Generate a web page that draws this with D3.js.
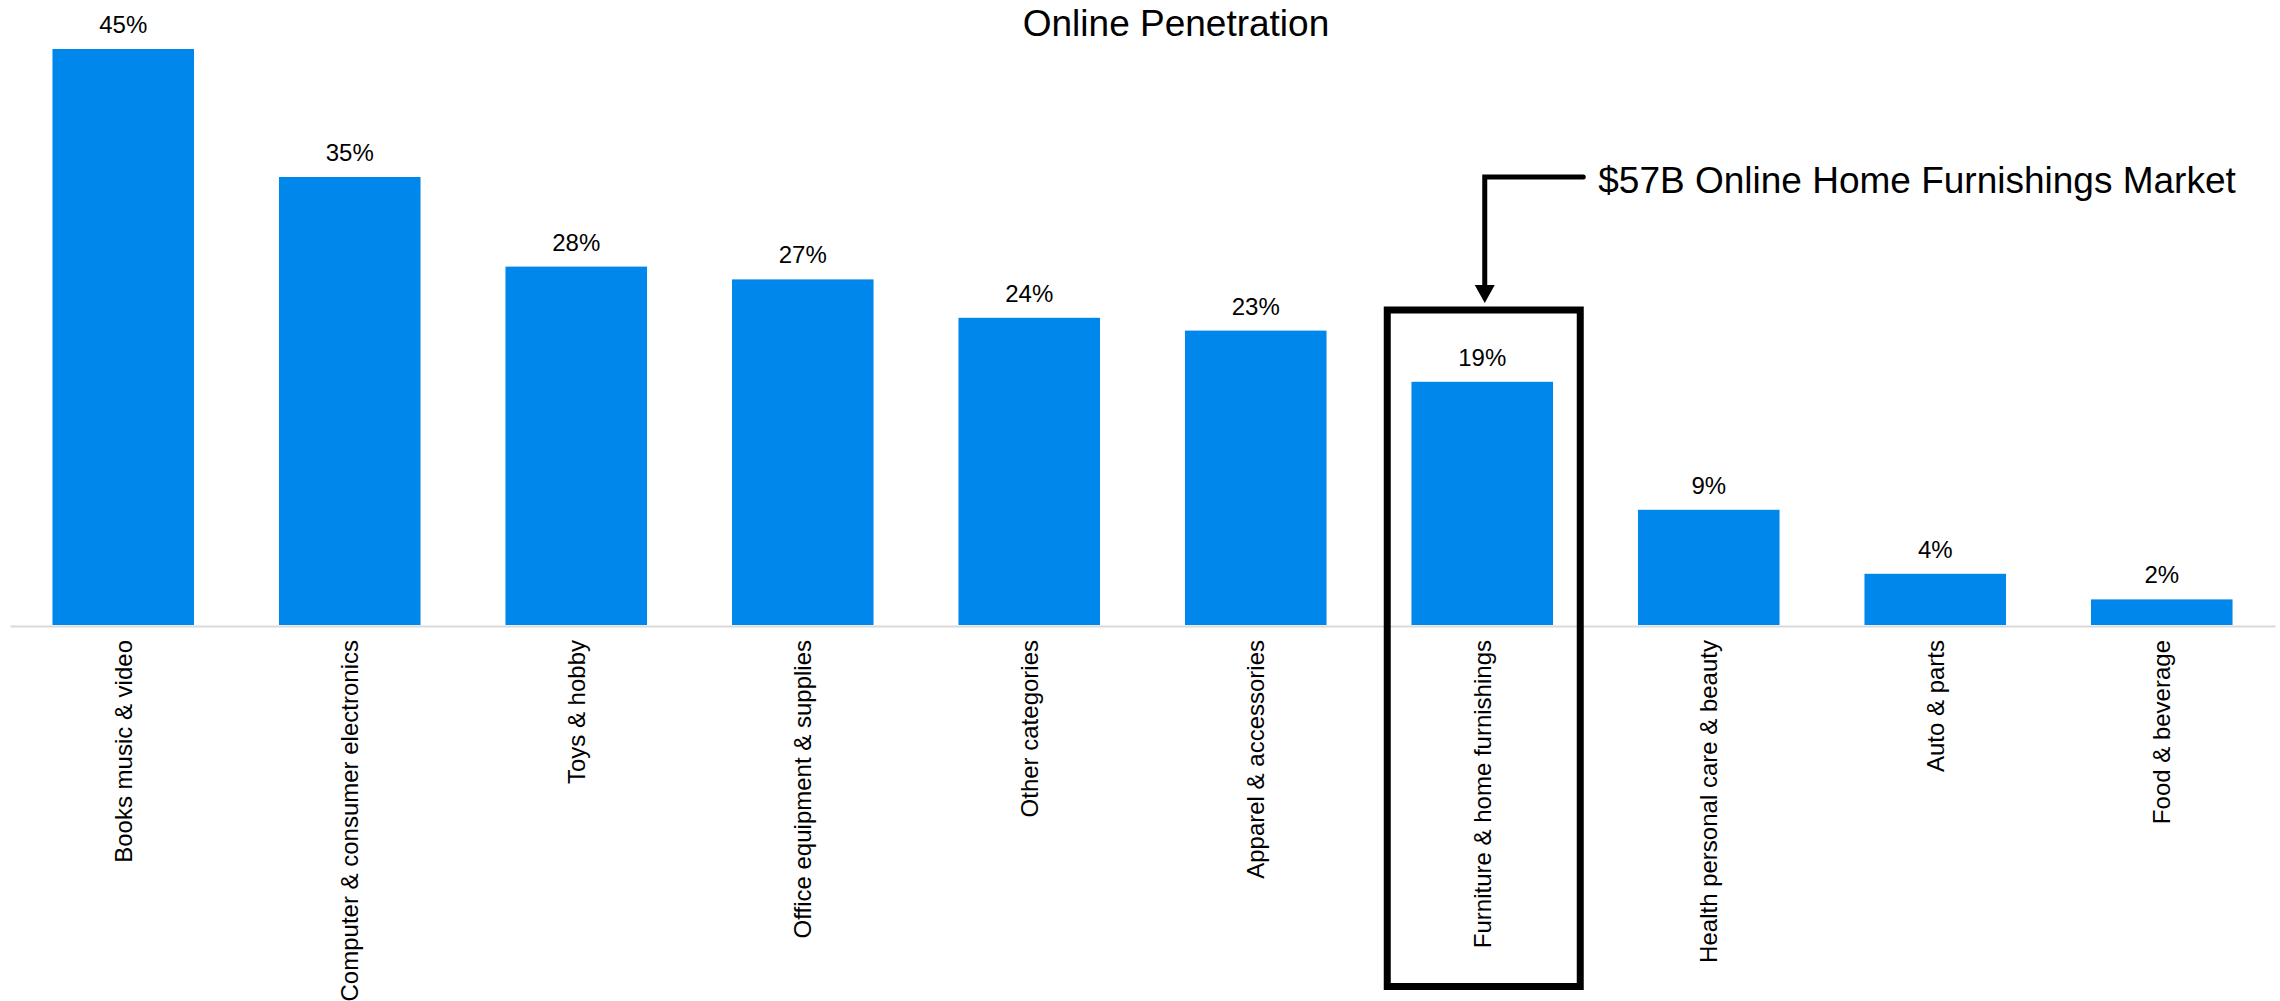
<!DOCTYPE html>
<html>
<head>
<meta charset="utf-8">
<script src="https://cdn.jsdelivr.net/npm/d3@7"></script>
<style>
  html, body { margin: 0; padding: 0; background: #fff; }
  svg { display: block; font-family: "Liberation Sans", Arial, sans-serif; }
</style>
</head>
<body>
<svg id="chart" width="2280" height="1001"></svg>
<script>
// Online penetration by retail category (%)
const categories = [
  "Books music & video",
  "Computer & consumer electronics",
  "Toys & hobby",
  "Office equipment & supplies",
  "Other categories",
  "Apparel & accessories",
  "Furniture & home furnishings",
  "Health personal care & beauty",
  "Auto & parts",
  "Food & beverage"
];
const penetration = [45, 35, 28, 27, 24, 23, 19, 9, 4, 2];
const valueLabels = ["45%", "35%", "28%", "27%", "24%", "23%", "19%", "9%", "4%", "2%"];

const chartTitle = "Online Penetration";
const highlightCategory = "Furniture & home furnishings";
const calloutText = "$57B Online Home Furnishings Market";

const svg = d3.select("#chart");
const plot = { left: 10, right: 2275, top: 49, base: 625 };

const x = d3.scaleBand()
  .domain(categories)
  .range([plot.left, plot.right])
  .paddingInner(0.375)
  .paddingOuter(0.1875);

const y = d3.scaleLinear()
  .domain([0, d3.max(penetration)])
  .range([plot.base, plot.top]);

const data = categories.map((c, i) => ({ c, v: penetration[i], label: valueLabels[i] }));

// Title
svg.append("text")
  .attr("x", 1176)
  .attr("y", 36)
  .attr("text-anchor", "middle")
  .attr("font-size", 37)
  .attr("fill", "#000")
  .text(chartTitle);

// Bars
svg.append("g")
  .selectAll("rect")
  .data(data)
  .join("rect")
  .attr("x", d => x(d.c))
  .attr("y", d => y(d.v))
  .attr("width", x.bandwidth())
  .attr("height", d => y(0) - y(d.v))
  .attr("fill", "#0087eb");

// Value labels
svg.append("g")
  .selectAll("text")
  .data(data)
  .join("text")
  .attr("x", d => x(d.c) + x.bandwidth() / 2)
  .attr("y", d => y(d.v) - 16)
  .attr("text-anchor", "middle")
  .attr("font-size", 24)
  .attr("fill", "#000")
  .text(d => d.label);

// Category axis
const xAxis = d3.axisBottom(x).tickSize(0).tickPadding(0);
const gx = svg.append("g")
  .attr("transform", `translate(0,${plot.base + 1})`)
  .call(xAxis);
gx.select(".domain").attr("stroke", "#d9d9d9").attr("stroke-width", 2);
gx.selectAll(".tick text")
  .attr("font-family", "Liberation Sans, Arial, sans-serif")
  .attr("font-size", 24)
  .attr("fill", "#000")
  .attr("text-anchor", "end")
  .attr("transform", "rotate(-90)")
  .attr("x", -14)
  .attr("y", 0)
  .attr("dy", "0.35em");

// Highlight box around the furnishings category
const hx = x(highlightCategory);
const hc = hx + x.bandwidth() / 2;
const box = { left: hc - 95, right: hc + 98, top: 310, bottom: 986.5 };
svg.append("rect")
  .attr("x", box.left)
  .attr("y", box.top)
  .attr("width", box.right - box.left)
  .attr("height", box.bottom - box.top)
  .attr("fill", "none")
  .attr("stroke", "#000")
  .attr("stroke-width", 7);

// Callout arrow
const ax = hc + 2.5;
const lineY = 177;
const lineEnd = box.right + 3;
const tipY = box.top - 7;
svg.append("path")
  .attr("d", `M${lineEnd},${lineY} L${ax},${lineY} L${ax},${tipY - 16}`)
  .attr("fill", "none")
  .attr("stroke", "#000")
  .attr("stroke-width", 5)
  .attr("stroke-linejoin", "miter")
  .attr("stroke-linecap", "round");
svg.append("path")
  .attr("d", `M${ax - 10},${tipY - 18} L${ax + 10},${tipY - 18} L${ax},${tipY} Z`)
  .attr("fill", "#000");

svg.append("text")
  .attr("x", lineEnd + 15)
  .attr("y", 193)
  .attr("font-size", 37)
  .attr("fill", "#000")
  .text(calloutText);
</script>
</body>
</html>
